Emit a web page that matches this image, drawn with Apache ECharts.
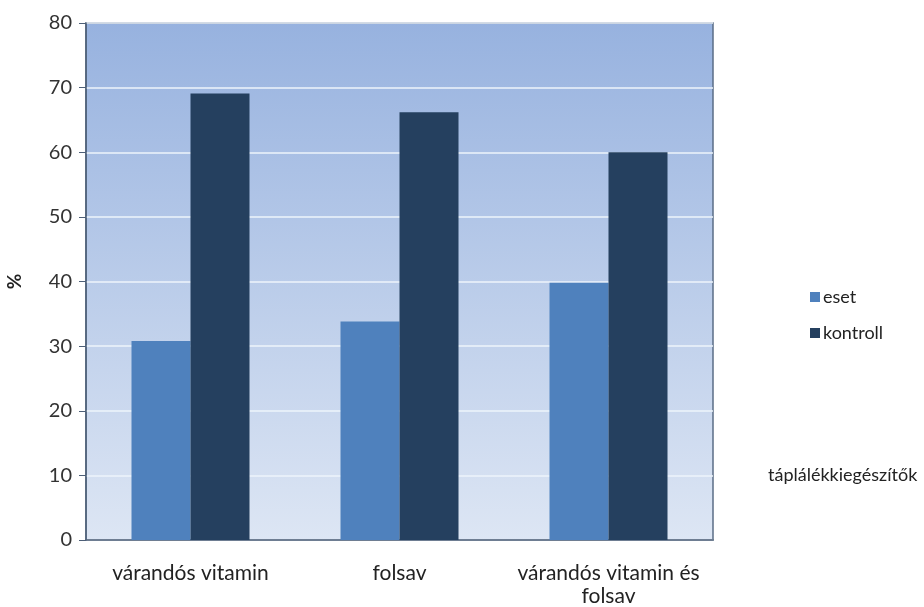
<!DOCTYPE html>
<html>
<head>
<meta charset="utf-8">
<script src="https://cdn.jsdelivr.net/npm/echarts@6/dist/echarts.min.js"></script>
<style>
  html, body { margin: 0; padding: 0; background: #fff; }
  #chart { width: 924px; height: 607px; }
</style>
</head>
<body>
<div id="chart"></div>
<script>
// Supplement categories and group shares (%)
const categories = ['várandós vitamin', 'folsav', 'várandós vitamin és\nfolsav'];
const esetValues = [30.8, 33.8, 39.8];
const kontrollValues = [69.1, 66.2, 60.0];
const seriesNames = ['eset', 'kontroll'];
const yAxisTitle = '%';
const xAxisTitle = 'táplálékkiegészítők';

const FONT = 'Lato, "Open Sans", sans-serif';
const chart = echarts.init(document.getElementById('chart'), null, { renderer: 'canvas' });

chart.setOption({
  animation: false,
  backgroundColor: '#ffffff',
  grid: {
    left: 86, right: 211, top: 23, bottom: 67,
    outerBoundsMode: 'none',
    show: true,
    borderColor: '#5b6e86',
    borderWidth: 1.5,
    backgroundColor: new echarts.graphic.LinearGradient(0, 0, 0, 1, [
      { offset: 0, color: '#97b2df' },
      { offset: 1, color: '#dde6f4' }
    ])
  },
  legend: {
    orient: 'vertical',
    left: 805, top: 283,
    itemWidth: 10, itemHeight: 10, itemGap: 18,
    icon: 'rect',
    textStyle: { fontFamily: FONT, fontSize: 18, color: '#222', padding: [0, 0, 0, -2] },
    data: seriesNames
  },
  xAxis: {
    type: 'category',
    data: categories,
    axisLine: { show: true, lineStyle: { color: '#4d5f77', width: 1.5 } },
    axisTick: { show: false },
    axisLabel: {
      fontFamily: FONT, fontSize: 21, color: '#222', margin: 22, lineHeight: 23,
      interval: 0
    }
  },
  yAxis: {
    type: 'value',
    min: 0, max: 80, interval: 10,
    name: yAxisTitle,
    nameLocation: 'middle',
    nameGap: 62,
    nameRotate: 90,
    nameTextStyle: { fontFamily: FONT, fontSize: 19, fontWeight: 'bold', color: '#222' },
    axisLine: { show: true, lineStyle: { color: '#4d5f77', width: 1.5 } },
    axisTick: { show: true, length: 7, lineStyle: { color: '#4d5f77' } },
    axisLabel: { fontFamily: FONT, fontSize: 20, color: '#333', margin: 14 },
    splitLine: { show: true, lineStyle: { color: '#eef4fb', width: 1.5 } }
  },
  series: [
    {
      name: seriesNames[0], type: 'bar', data: esetValues,
      barWidth: 59, barGap: '0%',
      itemStyle: { color: '#4f81bd' }
    },
    {
      name: seriesNames[1], type: 'bar', data: kontrollValues,
      barWidth: 59, barGap: '0%',
      itemStyle: { color: '#25405f' }
    }
  ],
  graphic: [
    {
      type: 'text', left: 768, top: 466,
      style: { text: xAxisTitle, fontFamily: FONT, fontSize: 18, fill: '#222' }
    }
  ]
});
</script>
</body>
</html>
